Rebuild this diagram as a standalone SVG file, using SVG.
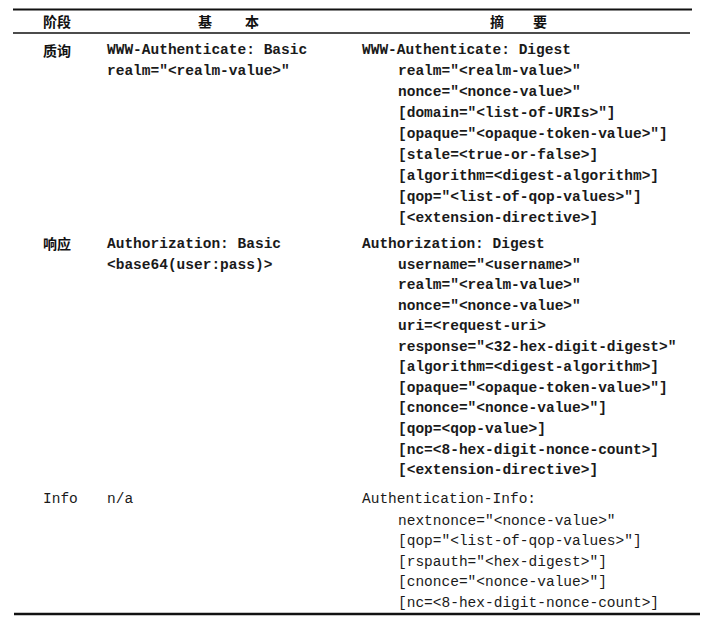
<svg xmlns="http://www.w3.org/2000/svg" width="713" height="623" viewBox="0 0 713 623">
<style>
.rule{stroke:#111;fill:none}
.hd{font-family:"Noto Sans CJK SC","Noto Sans CJK JP",sans-serif;font-size:14px;font-weight:bold;fill:#111}
.m{font-family:"Liberation Mono","Courier New",monospace;font-size:14.5px;fill:#1a1a1a}
.b{font-weight:bold}
</style>
<rect width="713" height="623" fill="#fff"/>
<g id="rules">
<line class="rule" x1="13" y1="9.5" x2="692" y2="9.5" stroke-width="2"/>
<line class="rule" x1="13" y1="33" x2="690" y2="33" stroke-width="1.3"/>
<line class="rule" x1="14" y1="614" x2="700" y2="614" stroke-width="2.5"/>
</g>
<g id="header">
<text class="hd" x="43" y="27">阶段</text>
<text class="hd" x="198" y="27">基</text>
<text class="hd" x="245" y="27">本</text>
<text class="hd" x="490" y="27">摘</text>
<text class="hd" x="533" y="27">要</text>
</g>
<g id="row-challenge">
<text class="hd" x="43" y="56">质询</text>
<text class="m b" x="107" y="54">WWW-Authenticate: Basic</text>
<text class="m b" x="107" y="75">realm="&lt;realm-value&gt;"</text>
<text class="m b" x="362" y="54">WWW-Authenticate: Digest</text>
<text class="m b" x="398" y="75">realm="&lt;realm-value&gt;"</text>
<text class="m b" x="398" y="96">nonce="&lt;nonce-value&gt;"</text>
<text class="m b" x="398" y="117">[domain="&lt;list-of-URIs&gt;"]</text>
<text class="m b" x="398" y="138">[opaque="&lt;opaque-token-value&gt;"]</text>
<text class="m b" x="398" y="159">[stale=&lt;true-or-false&gt;]</text>
<text class="m b" x="398" y="180">[algorithm=&lt;digest-algorithm&gt;]</text>
<text class="m b" x="398" y="201">[qop="&lt;list-of-qop-values&gt;"]</text>
<text class="m b" x="398" y="222">[&lt;extension-directive&gt;]</text>
</g>
<g id="row-response">
<text class="hd" x="43" y="249">响应</text>
<text class="m b" x="107" y="248">Authorization: Basic</text>
<text class="m b" x="107" y="268.5">&lt;base64(user:pass)&gt;</text>
<text class="m b" x="362" y="248">Authorization: Digest</text>
<text class="m b" x="398" y="268.5">username="&lt;username&gt;"</text>
<text class="m b" x="398" y="289">realm="&lt;realm-value&gt;"</text>
<text class="m b" x="398" y="309.5">nonce="&lt;nonce-value&gt;"</text>
<text class="m b" x="398" y="330">uri=&lt;request-uri&gt;</text>
<text class="m b" x="398" y="350.7">response="&lt;32-hex-digit-digest&gt;"</text>
<text class="m b" x="398" y="371.3">[algorithm=&lt;digest-algorithm&gt;]</text>
<text class="m b" x="398" y="391.8">[opaque="&lt;opaque-token-value&gt;"]</text>
<text class="m b" x="398" y="412.4">[cnonce="&lt;nonce-value&gt;"]</text>
<text class="m b" x="398" y="433">[qop=&lt;qop-value&gt;]</text>
<text class="m b" x="398" y="453.5">[nc=&lt;8-hex-digit-nonce-count&gt;]</text>
<text class="m b" x="398" y="474">[&lt;extension-directive&gt;]</text>
</g>
<g id="row-info">
<text class="m" x="43" y="503">Info</text>
<text class="m" x="107" y="503">n/a</text>
<text class="m" x="362" y="503">Authentication-Info:</text>
<text class="m" x="398" y="524.5">nextnonce="&lt;nonce-value&gt;"</text>
<text class="m" x="398" y="545">[qop="&lt;list-of-qop-values&gt;"]</text>
<text class="m" x="398" y="565.5">[rspauth="&lt;hex-digest&gt;"]</text>
<text class="m" x="398" y="586">[cnonce="&lt;nonce-value&gt;"]</text>
<text class="m" x="398" y="606.5">[nc=&lt;8-hex-digit-nonce-count&gt;]</text>
</g>
</svg>
